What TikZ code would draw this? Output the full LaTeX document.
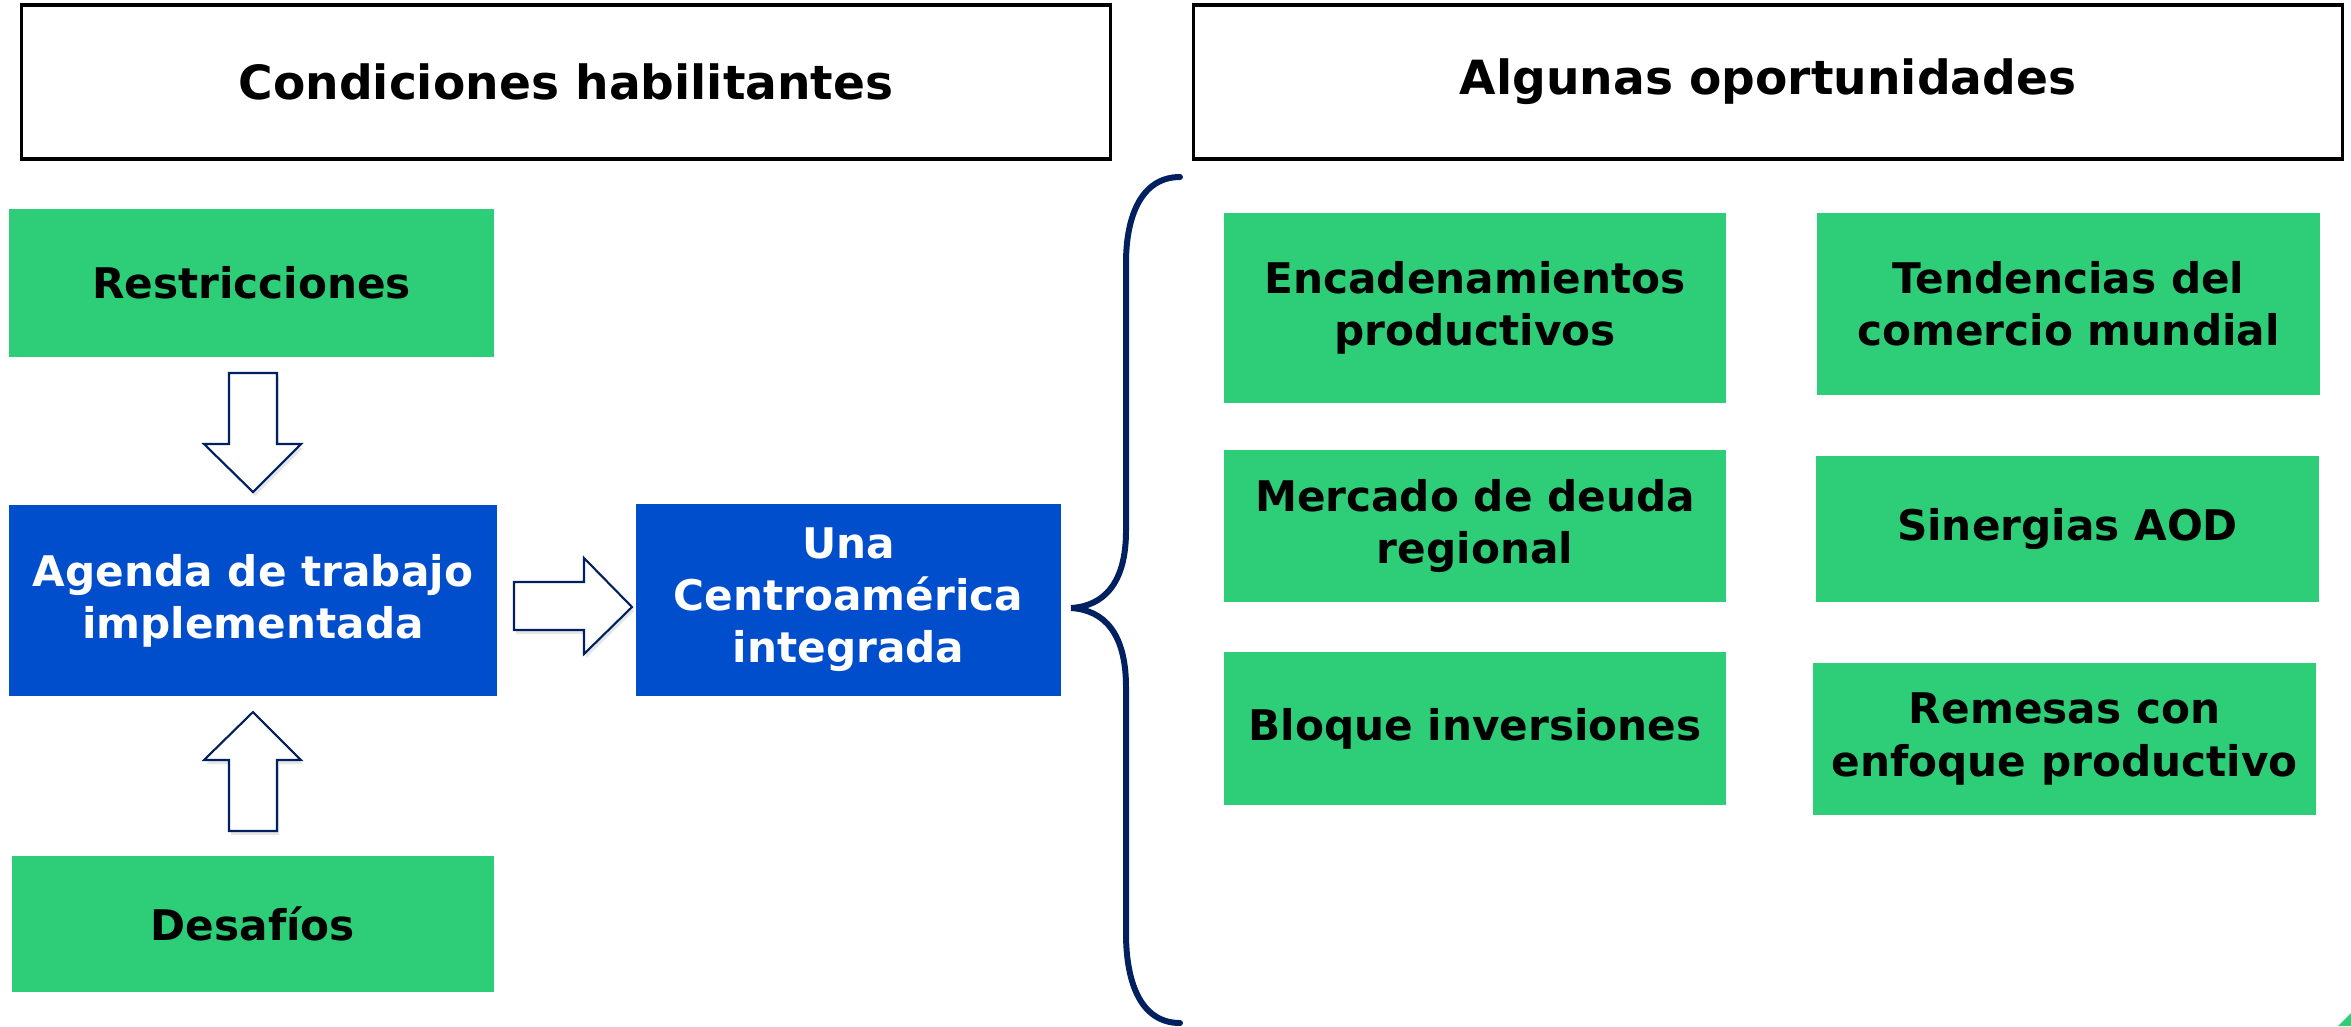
\documentclass[tikz,border=0pt]{standalone}
\usepackage{fontspec}
\setmainfont{DejaVu Sans}
\usetikzlibrary{shadows}
\definecolor{boxgreen}{RGB}{46,206,120}
\definecolor{boxblue}{RGB}{0,78,204}
\definecolor{navy}{RGB}{0,32,96}
\tikzset{
  hdrbox/.style={draw=black, line width=0.9pt, fill=white, inner sep=0pt, align=center,
    font=\fontsize{13.4}{16}\selectfont\bfseries},
  gbox/.style={fill=boxgreen, inner sep=0pt, align=center, text=black,
    font=\fontsize{12}{14.8}\selectfont\bfseries},
  bbox/.style={fill=boxblue, inner sep=0pt, align=center, text=white,
    font=\fontsize{12}{14.8}\selectfont\bfseries},
  blockarrow/.style={draw=navy, line width=0.6pt, fill=white,
    drop shadow={shadow xshift=0.02cm, shadow yshift=-0.04cm, opacity=0.2, fill=gray}},
  bracestyle/.style={draw=navy, line width=1.7pt, line cap=round}
}
\begin{document}
\begin{tikzpicture}[x=0.01cm,y=-0.01cm]
\useasboundingbox (0,0) rectangle (2351,1026);
% headers
\node[hdrbox, minimum width=10.88cm, minimum height=1.54cm] (hl) at (566,82) {Condiciones habilitantes};
\node[hdrbox, minimum width=11.49cm, minimum height=1.54cm] (hr) at (1768,82) {Algunas oportunidades};
% left column
\node[gbox, minimum width=4.85cm, minimum height=1.48cm] (restr) at (251.5,283) {Restricciones};
\node[bbox, minimum width=4.88cm, minimum height=1.91cm] (agenda) at (253,600.5) {Agenda de trabajo\\implementada};
\node[gbox, minimum width=4.82cm, minimum height=1.36cm] (desaf) at (253,924) {Desafíos};
\node[bbox, minimum width=4.25cm, minimum height=1.92cm] (una) at (848.5,600) {Una\\Centroamérica\\integrada};
% right columns
\node[gbox, minimum width=5.02cm, minimum height=1.90cm] (enc) at (1475,308) {Encadenamientos\\productivos};
\node[gbox, minimum width=5.02cm, minimum height=1.52cm] (merc) at (1475,526) {Mercado de deuda\\regional};
\node[gbox, minimum width=5.02cm, minimum height=1.53cm] (bloq) at (1475,728.5) {Bloque inversiones};
\node[gbox, minimum width=5.03cm, minimum height=1.82cm] (tend) at (2068.5,304) {Tendencias del\\comercio mundial};
\node[gbox, minimum width=5.03cm, minimum height=1.46cm] (siner) at (2067.5,529) {Sinergias AOD};
\node[gbox, minimum width=5.03cm, minimum height=1.52cm] (rem) at (2064.5,739) {Remesas con\\enfoque productivo};
% block arrows
\path[blockarrow] (229,373) -- (277,373) -- (277,444) -- (301,444) -- (253,492) -- (204,444) -- (229,444) -- cycle;
\path[blockarrow] (229,831) -- (277,831) -- (277,760) -- (301,760) -- (253,712) -- (204,760) -- (229,760) -- cycle;
\path[blockarrow] (514,582) -- (584,582) -- (584,558) -- (632,607) -- (584,654) -- (584,630) -- (514,630) -- cycle;
% brace
\coordinate (btop) at (1180,177);
\coordinate (btip) at (1071,608);
\coordinate (bbot) at (1180,1023);
\draw[bracestyle] (btop) .. controls (1142,177) and (1126,215) .. (1126,263)
  -- (1126,531) .. controls (1126,583) and (1104,606) .. (btip)
  .. controls (1104,610) and (1126,633) .. (1126,687)
  -- (1126,933) .. controls (1126,985) and (1142,1023) .. (bbot);
% corner triangle
\fill[boxgreen] (2338,1026) -- (2351,1013) -- (2351,1026) -- cycle;
\end{tikzpicture}
\end{document}
